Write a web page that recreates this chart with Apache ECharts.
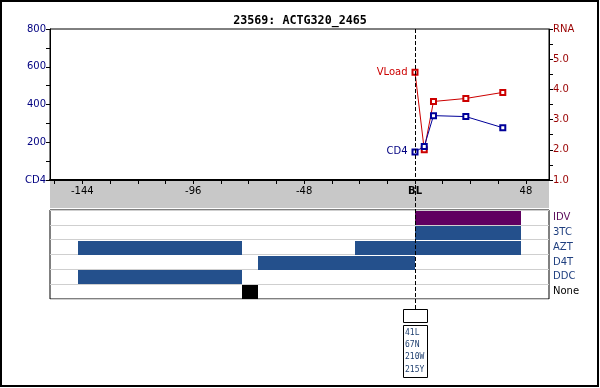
<!DOCTYPE html>
<html><head><meta charset="utf-8">
<script src="https://cdn.jsdelivr.net/npm/echarts@6/dist/echarts.min.js"></script>
<style>html,body{margin:0;padding:0;background:#fff}#c{width:600px;height:388px}</style>
</head><body><div id="c"></div><script>
// ---- data ----
const titleText = '23569: ACTG320_2465';
const cd4Weeks = [0, 4, 8, 22, 38];
const cd4Values = [149, 178, 341, 336, 277];
const rnaWeeks = [0, 4, 8, 22, 38];
const rnaValues = [4.57, 2.0, 3.6, 3.7, 3.9];
const xTickValues = [-156, -144, -132, -120, -108, -96, -84, -72, -60, -48, -36, -24, -12, 0, 12, 24, 36, 48];
const xLabelValues = [-144, -96, -48, 0, 48];
const cd4TickValues = [0, 100, 200, 300, 400, 500, 600, 700, 800];
const rnaTickValues = [1, 1.5, 2, 2.5, 3, 3.5, 4, 4.5, 5, 5.5, 6];
const drugs = ['IDV', '3TC', 'AZT', 'D4T', 'DDC', 'None'];
const drugLabelColors = ['#5a0a5a', '#1f3f7f', '#1f3f7f', '#1f3f7f', '#1f3f7f', '#000000'];
const drugBarColors = ['#600060', '#24508c', '#24508c', '#24508c', '#24508c', '#000000'];
const regDrug = ['IDV', '3TC', 'AZT', 'AZT', 'D4T', 'DDC', 'None'];
const regStart = [0, 0, -26, -146, -68, -146, -75];
const regEnd = [46, 46, 46, -75, 0, -75, -68];
const mutationWeek = 0;
const mutations = ['41L', '67N', '210W', '215Y'];

const X_MIN = -158, X_MAX = 58;
const L = 50, W = 499;
const sans = 'DejaVu Sans';

const chart = echarts.init(document.getElementById('c'));
const regData = regDrug.map((d, i) => [drugs.indexOf(d), regStart[i], regEnd[i]]);

const option = {
  animation: false,
  backgroundColor: '#fff',
  title: {
    text: titleText, left: 'center', top: 10,
    textStyle: { fontFamily: 'DejaVu Sans Mono', fontWeight: 'bold', fontSize: 11.7, color: '#000' }
  },
  grid: [
    { left: L, top: 29, width: W, height: 151, show: true, borderColor: '#000', borderWidth: 1, z: 1 },
    { left: L, top: 210, width: W, height: 89, show: true, borderColor: '#000', borderWidth: 1 },
    { left: L, top: 29, width: W, height: 280, show: false },
    { left: L, top: 309, width: W, height: 70, show: false },
    { left: L, top: 181, width: W, height: 27, show: true, backgroundColor: '#c8c8c8', borderWidth: 0, z: 0 }
  ],
  xAxis: [
    {
      gridIndex: 0, type: 'value', min: X_MIN, max: X_MAX, position: 'bottom',
      axisLine: { show: true, onZero: false, lineStyle: { color: '#000', width: 2 } },
      axisTick: { show: true, inside: false, customValues: xTickValues, length: 4, lineStyle: { color: '#000' } },
      axisLabel: {
        show: true, customValues: xLabelValues, margin: 6, fontFamily: sans, fontSize: 10, color: '#000',
        formatter: v => v === 0 ? '{b|BL}' : String(v),
        rich: { b: { fontWeight: 'bold', fontFamily: sans, fontSize: 10, color: '#000' } }
      },
      splitLine: { show: false }, z: 3
    },
    { gridIndex: 1, type: 'value', min: X_MIN, max: X_MAX, show: false },
    { gridIndex: 2, type: 'value', min: X_MIN, max: X_MAX, show: false },
    { gridIndex: 3, type: 'value', min: X_MIN, max: X_MAX, show: false },
    { gridIndex: 4, type: 'value', min: X_MIN, max: X_MAX, show: false }
  ],
  yAxis: [
    {
      gridIndex: 0, type: 'value', min: 0, max: 800, interval: 200, position: 'left',
      axisLine: { show: true, onZero: false, lineStyle: { color: '#000' } },
      axisTick: { show: true, inside: false, customValues: cd4TickValues, length: 4, lineStyle: { color: '#000' } },
      minorTick: { show: false },
      axisLabel: { margin: 4, fontFamily: sans, fontSize: 10, color: '#000080', formatter: v => v === 0 ? 'CD4' : String(v) },
      splitLine: { show: false }
    },
    {
      gridIndex: 0, type: 'value', min: 1, max: 6, interval: 1, position: 'right',
      axisLine: { show: true, onZero: false, lineStyle: { color: '#000' } },
      axisTick: { show: true, inside: false, customValues: rnaTickValues, length: 4, lineStyle: { color: '#000' } },
      minorTick: { show: false },
      axisLabel: { margin: 4, fontFamily: sans, fontSize: 10, color: '#990000', formatter: v => v === 6 ? 'RNA' : v.toFixed(1) },
      splitLine: { show: false }
    },
    {
      gridIndex: 1, type: 'category', data: drugs, inverse: true, position: 'right',
      axisLine: { show: false, onZero: false }, axisTick: { show: false },
      axisLabel: {
        margin: 4, fontFamily: sans, fontSize: 10,
        formatter: (v, i) => '{d' + i + '|' + v + '}',
        rich: Object.fromEntries(drugs.map((d, i) => ['d' + i, { color: drugLabelColors[i], fontFamily: sans, fontSize: 10 }]))
      },
      splitLine: { show: true, lineStyle: { color: '#cfcfcf', width: 1 } }
    },
    { gridIndex: 2, type: 'value', min: 0, max: 1, show: false },
    { gridIndex: 3, type: 'value', min: 0, max: 1, show: false },
    { gridIndex: 4, type: 'value', min: 0, max: 1, show: false }
  ],
  graphic: [
    { type: 'rect', shape: { x: 1, y: 1, width: 597, height: 385 }, style: { fill: null, stroke: '#000', lineWidth: 2 }, z: 100 }
  ],
  series: [
    {
      name: 'Regimens', type: 'custom', xAxisIndex: 1, yAxisIndex: 2, data: regData,
      encode: { x: [1, 2], y: 0 }, z: 2,
      renderItem: (params, api) => {
        const row = api.value(0);
        const s = api.coord([api.value(1), row]);
        const e = api.coord([api.value(2), row]);
        const h = api.size([0, 1])[1];
        return {
          type: 'rect',
          shape: { x: Math.round(s[0]), y: Math.round(s[1] - h / 2) + 1, width: Math.round(e[0] - s[0]), height: Math.round(h) - 1 },
          style: { fill: drugBarColors[row] }
        };
      }
    },
    {
      name: 'Baseline', type: 'custom', xAxisIndex: 2, yAxisIndex: 3, data: [[0]], z: 5,
      encode: { x: 0 },
      renderItem: (params, api) => {
        const x = Math.round(api.coord([api.value(0), 0])[0]) + 0.5;
        const cs = params.coordSys;
        return { type: 'line', shape: { x1: x, y1: cs.y, x2: x, y2: cs.y + cs.height }, style: { stroke: '#000', lineWidth: 1, lineDash: [4, 2] } };
      }
    },
    {
      name: 'Mutations', type: 'custom', xAxisIndex: 3, yAxisIndex: 4, data: [[mutationWeek]], z: 5,
      encode: { x: 0 },
      renderItem: (params, api) => {
        const x = Math.round(api.coord([api.value(0), 0])[0]);
        const top = params.coordSys.y;
        const children = [
          { type: 'rect', shape: { x: x - 12 + 0.5, y: top + 0.5, width: 24, height: 13 }, style: { fill: '#fff', stroke: '#000', lineWidth: 1 } },
          { type: 'rect', shape: { x: x - 12 + 0.5, y: top + 16.5, width: 24, height: 52 }, style: { fill: '#fff', stroke: '#000', lineWidth: 1 } }
        ];
        mutations.forEach((m, i) => {
          children.push({ type: 'text', x: x - 10, y: top + 24 + i * 12.2, style: { text: m, fill: '#1f3f6f', font: '8px "DejaVu Sans Mono"', verticalAlign: 'middle', align: 'left' } });
        });
        return { type: 'group', children };
      }
    },
    {
      name: 'VLoad', type: 'line', xAxisIndex: 0, yAxisIndex: 1, z: 4,
      data: rnaWeeks.map((w, i) => i === 0
        ? { value: [w, rnaValues[i]], label: { show: true, position: 'left', distance: 4, formatter: 'VLoad', color: '#cc0000', fontFamily: sans, fontSize: 10 } }
        : [w, rnaValues[i]]),
      symbol: 'emptyRect', symbolSize: 5, showAllSymbol: true,
      lineStyle: { color: '#cc0000', width: 1 }, itemStyle: { color: '#cc0000', borderWidth: 1 }
    },
    {
      name: 'CD4', type: 'line', xAxisIndex: 0, yAxisIndex: 0, z: 4,
      data: cd4Weeks.map((w, i) => i === 0
        ? { value: [w, cd4Values[i]], label: { show: true, position: 'left', distance: 4, formatter: 'CD4', color: '#000080', fontFamily: sans, fontSize: 10 } }
        : [w, cd4Values[i]]),
      symbol: 'emptyRect', symbolSize: 5, showAllSymbol: true,
      lineStyle: { color: '#000099', width: 1 }, itemStyle: { color: '#000099', borderWidth: 1 }
    }
  ]
};
chart.setOption(option);
</script></body></html>
